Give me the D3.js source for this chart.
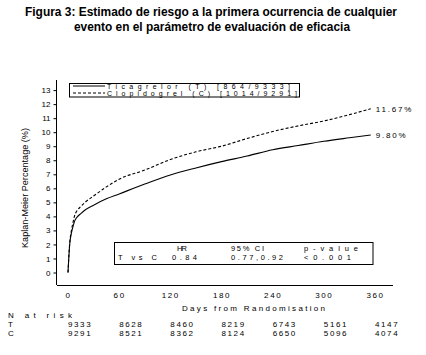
<!DOCTYPE html>
<html><head><meta charset="utf-8">
<script src="https://cdn.jsdelivr.net/npm/d3@7"></script>
<style>
html,body{margin:0;padding:0;background:#fff;}
svg{display:block;font-family:"Liberation Sans",Arial,sans-serif;}
</style></head>
<body><svg id="c" width="426" height="355"></svg>
<script>
const titleLines = ["Figura 3: Estimado de riesgo a la primera ocurrencia de cualquier",
                    "evento en el parámetro de evaluación de eficacia"];
const days        = [0, 1, 2, 4, 6, 8, 10, 15, 20, 30, 45, 60, 90, 120, 150, 180, 210, 240, 270, 300, 330, 355];
const ticagrelor  = [0, 1.1, 2.0, 2.8, 3.3, 3.7, 3.9, 4.2, 4.45, 4.8, 5.25, 5.6, 6.3, 6.95, 7.45, 7.9, 8.3, 8.75, 9.05, 9.35, 9.6, 9.80];
const clopidogrel = [0, 1.2, 2.1, 3.0, 3.6, 4.1, 4.35, 4.7, 5.0, 5.45, 6.1, 6.65, 7.3, 8.05, 8.6, 9.0, 9.55, 10.05, 10.45, 10.8, 11.25, 11.67];
const endLabels   = ["9.80%", "11.67%"];
const legendLabels = ["Ticagrelor (T) [864/9333]", "Clopidogrel (C) [1014/9291]"];
const xTicks = [0, 60, 120, 180, 240, 300, 360];
const yTicks = [0,1,2,3,4,5,6,7,8,9,10,11,12,13];
const atRiskT = [9333, 8628, 8460, 8219, 6743, 5161, 4147];
const atRiskC = [9291, 8521, 8362, 8124, 6650, 5096, 4074];
const statHeader = ["HR", "95% CI", "p-value"];
const statRow = ["T vs C", "0.84", "0.77,0.92", "<0.001"];
const xTitle = "Days from Randomisation";
const yTitle = "Kaplan-Meier Percentage (%)";

const svg = d3.select("#c");
const x = d3.scaleLinear().domain([0, 360]).range([68, 375]);
const y = d3.scaleLinear().domain([0, 13]).range([272.5, 90.1]);

// title
svg.selectAll("text.title").data(titleLines).join("text")
  .attr("x", (d,i)=> i===0 ? 211 : 212).attr("y", (d,i)=> 16 + i*14.5)
  .attr("text-anchor","middle").attr("font-weight","bold").attr("font-size", 12)
  .attr("textLength",(d,i)=> i===0 ? 372 : 276).attr("lengthAdjust","spacingAndGlyphs")
  .text(d=>d);

// axes
const gx = svg.append("g").attr("transform","translate(0,285)")
  .call(d3.axisBottom(x).tickValues(xTicks).tickSize(0).tickPadding(7).tickFormat(d3.format("d")));
gx.select(".domain").attr("d","M56.5,0.5H393").attr("stroke","#000").attr("shape-rendering","crispEdges");
gx.selectAll("text").attr("font-size",8).attr("font-family","Liberation Sans, Arial").attr("fill","#000")
  .attr("letter-spacing","1.6px").attr("dy","0.71em");

const gy = svg.append("g").attr("transform","translate(56.5,0)")
  .call(d3.axisLeft(y).tickValues(yTicks).tickSize(3).tickPadding(3));
gy.select(".domain").attr("d","M0,80V285").attr("stroke","#000").attr("shape-rendering","crispEdges");
gy.selectAll(".tick line").attr("stroke","#000");
gy.selectAll("text").attr("font-size",8).attr("font-family","Liberation Sans, Arial").attr("fill","#000");

// y title
svg.append("text").attr("transform","translate(28,188) rotate(-90)")
  .attr("text-anchor","middle").attr("font-size",9.5)
  .attr("textLength",120).attr("lengthAdjust","spacingAndGlyphs").text(yTitle);

// curves
const line = d3.line().x((d)=>x(d[0])).y(d=>y(d[1])).curve(d3.curveMonotoneX);
const series = [
  {vals: ticagrelor, dash: null},
  {vals: clopidogrel, dash: "3,2"}
];
series.forEach((s,i)=>{
  const pts = days.map((d,j)=>[d, s.vals[j]]);
  svg.append("path").attr("d", line(pts)).attr("fill","none").attr("stroke","#000")
    .attr("stroke-width",1.1).attr("stroke-dasharray", s.dash);
  const last = pts[pts.length-1];
  svg.append("text").attr("x", x(last[0]) + 5).attr("y", y(last[1]) + 3)
    .attr("font-size",8).attr("letter-spacing","1.8px").text(endLabels[i]);
});

// legend
svg.append("rect").attr("x",69.5).attr("y",83.5).attr("width",230).attr("height",13.5)
  .attr("fill","none").attr("stroke","#000");
legendLabels.forEach((t,i)=>{
  const ly = 86 + i*7;
  svg.append("line").attr("x1",73).attr("x2",105).attr("y1",ly).attr("y2",ly)
    .attr("stroke","#000").attr("stroke-dasharray", series[i].dash);
  svg.append("text").attr("x",107).attr("y", 89 + i*6.5).attr("font-size",7)
    .attr("textLength", i===0 ? 183 : 190).attr("lengthAdjust","spacing").text(t);
});

// stats box
svg.append("rect").attr("x",114.5).attr("y",242.5).attr("width",258.5).attr("height",22)
  .attr("fill","none").attr("stroke","#000");
const hdrX = [177, 231, 304], hdrW = [10, 33, 54];
statHeader.forEach((t,i)=>{
  svg.append("text").attr("x",hdrX[i]).attr("y",250.5).attr("font-size",7.5)
    .attr("textLength",hdrW[i]).attr("lengthAdjust","spacing").text(t);
});
const rowX = [118, 172, 231, 304], rowW = [39, 25, 52, 47];
statRow.forEach((t,i)=>{
  svg.append("text").attr("x",rowX[i]).attr("y",260).attr("font-size",7.5)
    .attr("textLength",rowW[i]).attr("lengthAdjust","spacing").text(t);
});

// x title
svg.append("text").attr("x",182).attr("y",310.5).attr("font-size",8)
  .attr("textLength",143).attr("lengthAdjust","spacing").text(xTitle);

// at risk
svg.append("text").attr("x",8).attr("y",317.5).attr("font-size",8)
  .attr("textLength",64).attr("lengthAdjust","spacing").text("N at risk");
[["T", atRiskT, 327], ["C", atRiskC, 336]].forEach(([lab, vals, yy])=>{
  svg.append("text").attr("x",8).attr("y",yy).attr("font-size",8).text(lab);
  svg.selectAll(null).data(vals).join("text")
    .attr("x",(d,i)=> x(xTicks[i])).attr("y",yy).attr("font-size",8)
    .attr("letter-spacing","1.6px").text(d=>d);
});
</script></body></html>
